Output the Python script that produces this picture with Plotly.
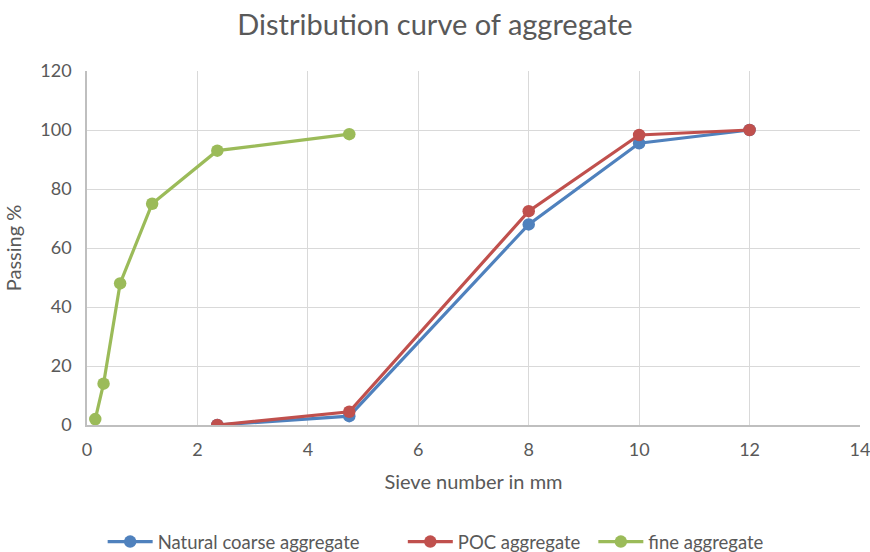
import plotly.graph_objects as go

title = "Distribution curve of aggregate"
x_coarse = [2.36, 4.75, 8, 10, 12]
natural_coarse = [0, 3, 68, 95.5, 100]
poc = [0, 4.5, 72.5, 98.3, 100]
x_fine = [0.15, 0.3, 0.6, 1.18, 2.36, 4.75]
fine = [2, 14, 48, 75, 93, 98.6]

FONT = "Lato, Calibri, sans-serif"
fig = go.Figure()
series = [
    ("Natural coarse aggregate", x_coarse, natural_coarse, "#4F81BD", "legend"),
    ("POC aggregate", x_coarse, poc, "#C0504D", "legend2"),
    ("fine aggregate", x_fine, fine, "#9BBB59", "legend3"),
]
for name, xs, ys, c, lg in series:
    fig.add_trace(go.Scatter(x=xs, y=ys, name=name, mode="lines+markers",
                             line=dict(color=c, width=3.2), showlegend=True,
                             marker=dict(color=c, size=12.5), legend=lg))

def leg(xpos):
    return dict(orientation="h", x=xpos, xanchor="left", xref="container",
                y=0.018, yanchor="middle", yref="container",
                font=dict(size=18.5, color="#595959"), itemwidth=45,
                bgcolor="rgba(0,0,0,0)")

fig.update_layout(
    width=870, height=552, showlegend=True,
    margin=dict(l=87, r=10, t=71, b=127, autoexpand=False),
    paper_bgcolor="white", plot_bgcolor="white",
    font=dict(family=FONT, color="#595959", size=18),
    title=dict(text=title, x=0.5, xanchor="center", y=0.955, yanchor="middle",
               font=dict(size=29, color="#595959", family=FONT)),
    legend=leg(0.118),
    legend2=leg(0.463),
    legend3=leg(0.682),
    xaxis=dict(range=[0, 14], dtick=2, showgrid=True, gridcolor="#d9d9d9", gridwidth=1,
               showline=True, linecolor="#bfbfbf", linewidth=1.5, zeroline=False,
               ticks="", tickfont=dict(size=18, color="#595959"),
               ticklabelstandoff=8, ticklabeloverflow="allow",
               title=dict(text="Sieve number in mm", font=dict(size=20, color="#595959"), standoff=16)),
    yaxis=dict(range=[0, 120], dtick=20, showgrid=True, gridcolor="#d9d9d9", gridwidth=1,
               showline=True, linecolor="#bfbfbf", linewidth=1.5, zeroline=False, ticks="",
               tickfont=dict(size=18, color="#595959"),
               ticklabelstandoff=10, ticklabeloverflow="allow",
               title=dict(text="Passing %", font=dict(size=20, color="#595959"), standoff=13)),
)
fig.write_html("out.html")
